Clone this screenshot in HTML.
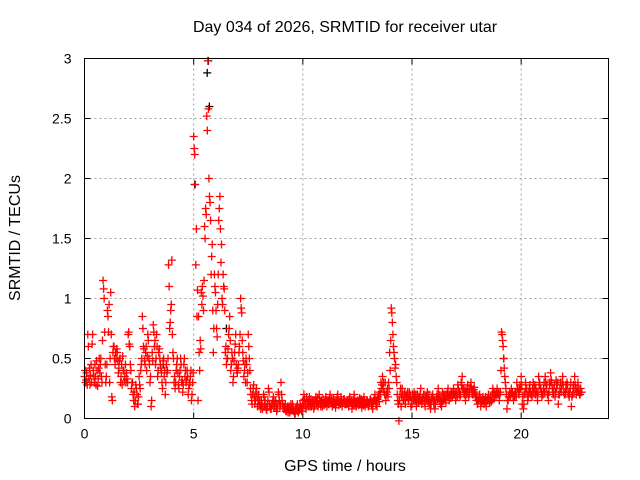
<!DOCTYPE html>
<html><head><meta charset="utf-8"><style>
body{margin:0;background:#fff;}
svg{display:block;font-family:"Liberation Sans",sans-serif;}
</style></head><body>
<svg id="chart" width="640" height="480">
<text x="345" y="32" font-size="16" text-anchor="middle">Day 034 of 2026, SRMTID for receiver utar</text>
<text x="0" y="0" font-size="16" text-anchor="middle" transform="translate(20,238) rotate(-90)">SRMTID / TECUs</text>
<text x="345" y="471" font-size="16" text-anchor="middle">GPS time / hours</text>
<g id="grid"></g>
<g id="ticks"></g>
<g id="points"></g>
<rect x="84.5" y="58.5" width="524" height="360" fill="none" stroke="#000" stroke-width="1"/>
</svg>
<script>
const xTicks=[0,5,10,15,20];
const yTicks=[0,0.5,1,1.5,2,2.5,3];
const yTickLabels=["0","0.5","1","1.5","2","2.5","3"];
const timeStep=0.05;
const srmtidRed=[
0.35,0.3,0.38,0.7,0.33,0.28,0.45,0.62,0.4,0.3,0.35,0.48,0.27,0.42,0.38,0.5,0.3,1.15,1.0,0.45,
0.35,0.9,0.72,0.3,1.05,0.18,0.55,0.6,0.45,0.5,0.55,0.38,0.48,0.3,0.45,0.52,0.4,0.35,0.3,0.33,
0.7,0.62,0.45,0.25,0.3,0.15,0.1,0.28,0.2,0.12,0.35,0.25,0.45,0.85,0.6,0.48,0.55,0.4,0.7,0.5,
0.3,0.1,0.55,0.78,0.6,0.45,0.7,0.35,0.55,0.5,0.42,0.3,0.48,0.35,0.2,0.45,0.4,1.28,0.75,0.9,
1.32,0.55,0.3,0.25,0.4,0.5,0.28,0.35,0.5,0.3,0.22,0.45,0.35,0.3,0.4,0.2,0.28,0.35,0.15,0.3,
2.35,2.2,1.28,0.85,0.15,0.55,0.65,1.05,1.1,0.9,1.6,1.75,2.52,2.98,2.0,1.8,1.2,1.45,0.55,1.2,
1.05,0.75,0.95,1.65,1.85,1.3,1.0,1.2,1.08,0.55,0.45,0.5,0.7,0.85,0.4,0.55,0.3,0.48,0.62,0.45,
0.38,0.45,0.6,1.0,0.88,0.55,0.35,0.45,0.5,0.3,0.7,0.5,0.25,0.15,0.2,0.28,0.12,0.22,0.18,0.15,
0.12,0.1,0.15,0.08,0.2,0.12,0.1,0.07,0.15,0.22,0.1,0.08,0.12,0.18,0.1,0.15,0.06,0.12,0.2,0.1,
0.3,0.15,0.1,0.08,0.12,0.06,0.1,0.08,0.05,0.12,0.07,0.1,0.06,0.04,0.08,0.12,0.05,0.07,0.1,0.06,
0.15,0.2,0.12,0.08,0.15,0.1,0.18,0.12,0.1,0.15,0.08,0.12,0.18,0.14,0.1,0.2,0.12,0.15,0.1,0.13,
0.14,0.18,0.1,0.15,0.12,0.2,0.13,0.1,0.16,0.12,0.09,0.15,0.2,0.11,0.14,0.18,0.1,0.13,0.16,0.12,
0.12,0.15,0.1,0.18,0.13,0.08,0.14,0.2,0.12,0.1,0.15,0.11,0.17,0.13,0.09,0.14,0.18,0.1,0.12,0.15,
0.1,0.13,0.16,0.12,0.08,0.15,0.2,0.12,0.1,0.18,0.14,0.2,0.25,0.35,0.3,0.2,0.15,0.22,0.18,0.25,
0.4,0.92,0.8,0.6,0.5,0.45,0.3,0.15,-0.02,0.2,0.1,0.25,0.15,0.2,0.12,0.18,0.22,0.15,0.2,0.1,
0.12,0.18,0.22,0.15,0.1,0.2,0.13,0.17,0.25,0.12,0.15,0.2,0.1,0.18,0.22,0.14,0.12,0.08,0.16,0.2,
0.12,0.08,0.15,0.2,0.25,0.18,0.12,0.1,0.22,0.15,0.2,0.13,0.18,0.25,0.15,0.2,0.22,0.18,0.25,0.2,
0.15,0.22,0.28,0.2,0.18,0.3,0.35,0.25,0.2,0.15,0.22,0.28,0.18,0.25,0.3,0.22,0.2,0.26,0.18,0.15,
0.12,0.15,0.2,0.1,0.14,0.18,0.12,0.16,0.1,0.15,0.2,0.13,0.18,0.15,0.25,0.2,0.22,0.18,0.25,0.2,
0.15,0.22,0.72,0.65,0.5,0.35,0.25,0.08,0.15,0.2,0.18,0.25,0.22,0.15,0.18,0.2,0.3,0.25,0.2,0.28,
0.35,0.12,0.08,0.2,0.3,0.25,0.15,0.22,0.28,0.2,0.18,0.3,0.25,0.2,0.22,0.15,0.35,0.3,0.25,0.18,
0.2,0.3,0.35,0.25,0.2,0.15,0.28,0.38,0.3,0.22,0.25,0.18,0.32,0.28,0.12,0.2,0.3,0.25,0.35,0.22,
0.2,0.28,0.3,0.22,0.18,0.25,0.1,0.2,0.28,0.35,0.25,0.22,0.3,0.25,0.2,0.22
];
const srmtidRedOffsetStart=0.025;
const srmtidRedB=[
0.4,0.32,0.28,0.6,0.42,0.36,0.3,0.7,0.35,0.45,0.28,0.4,0.33,0.5,0.45,0.35,0.65,1.08,0.72,0.3,
0.45,0.85,0.95,0.5,0.7,0.15,0.6,0.5,0.55,0.58,0.48,0.42,0.5,0.35,0.28,0.4,0.32,0.45,0.38,0.3,
0.72,0.6,0.4,0.3,0.2,0.22,0.15,0.25,0.12,0.18,0.28,0.4,0.5,0.75,0.58,0.45,0.6,0.52,0.65,0.45,
0.35,0.15,0.48,0.72,0.65,0.5,0.6,0.4,0.58,0.45,0.38,0.25,0.5,0.4,0.3,0.38,0.5,1.1,0.8,0.95,
0.7,0.5,0.35,0.3,0.45,0.38,0.25,0.4,0.45,0.32,0.28,0.5,0.4,0.32,0.35,0.25,0.3,0.4,0.2,0.38,
2.25,1.95,1.58,1.07,0.85,0.4,0.58,0.95,1.02,1.15,1.5,1.7,2.4,2.58,1.85,1.65,1.35,0.9,0.75,1.1,
0.9,0.68,1.2,1.75,1.58,1.45,0.95,1.1,0.9,0.6,0.5,0.58,0.75,0.65,0.45,0.5,0.35,0.55,0.7,0.4,
0.42,0.55,0.7,0.92,0.65,0.48,0.4,0.3,0.45,0.38,0.6,0.4,0.2,0.12,0.25,0.18,0.15,0.25,0.1,0.2,
0.15,0.08,0.12,0.1,0.18,0.15,0.08,0.12,0.25,0.12,0.08,0.12,0.15,0.1,0.14,0.1,0.08,0.22,0.15,0.12,
0.2,0.12,0.08,0.1,0.06,0.09,0.05,0.1,0.07,0.08,0.12,0.06,0.04,0.08,0.1,0.06,0.09,0.12,0.08,0.1,
0.12,0.16,0.1,0.18,0.12,0.14,0.1,0.16,0.13,0.12,0.1,0.15,0.12,0.17,0.12,0.15,0.1,0.12,0.16,0.11,
0.12,0.15,0.13,0.12,0.17,0.14,0.16,0.12,0.13,0.15,0.12,0.18,0.14,0.13,0.12,0.15,0.13,0.16,0.12,0.14,
0.14,0.12,0.16,0.13,0.15,0.12,0.11,0.16,0.14,0.13,0.12,0.15,0.13,0.16,0.12,0.11,0.15,0.13,0.14,0.12,
0.12,0.15,0.14,0.1,0.13,0.17,0.15,0.14,0.16,0.2,0.22,0.3,0.28,0.25,0.22,0.3,0.2,0.25,0.3,0.55,
0.65,0.88,0.7,0.55,0.42,0.35,0.2,0.12,0.15,0.25,0.18,0.2,0.15,0.22,0.18,0.2,0.16,0.22,0.18,0.15,
0.2,0.15,0.18,0.2,0.14,0.16,0.18,0.2,0.15,0.17,0.2,0.14,0.18,0.15,0.16,0.2,0.15,0.12,0.18,0.16,
0.15,0.12,0.18,0.16,0.2,0.15,0.18,0.14,0.2,0.18,0.16,0.2,0.22,0.18,0.2,0.17,0.2,0.22,0.2,0.22,
0.2,0.18,0.25,0.22,0.2,0.28,0.25,0.22,0.24,0.2,0.25,0.2,0.22,0.27,0.25,0.2,0.24,0.22,0.2,0.18,
0.15,0.18,0.16,0.14,0.17,0.15,0.13,0.18,0.15,0.17,0.15,0.16,0.14,0.2,0.22,0.18,0.2,0.22,0.2,0.22,
0.2,0.4,0.7,0.6,0.42,0.3,0.2,0.15,0.18,0.22,0.2,0.22,0.18,0.2,0.22,0.18,0.25,0.22,0.24,0.25,
0.28,0.18,0.12,0.22,0.25,0.2,0.18,0.25,0.22,0.2,0.25,0.22,0.28,0.25,0.2,0.22,0.28,0.25,0.22,0.2,
0.25,0.22,0.3,0.28,0.2,0.22,0.3,0.32,0.25,0.2,0.28,0.22,0.25,0.3,0.2,0.25,0.22,0.3,0.28,0.2,
0.22,0.25,0.28,0.2,0.22,0.3,0.18,0.25,0.22,0.28,0.2,0.25,0.22,0.2,0.25,0.22
];
const blackTimes=[5.62,5.67,5.72,5.05,19.2,6.5,3.6];
const blackValues=[2.88,2.98,2.6,1.95,0.5,0.75,0.45];

const L=84.5,R=608.5,T=58.5,B=418.5,XMAX=24,YMAX=3;
const xs=v=>L+(v/XMAX)*(R-L);
const ys=v=>B-(v/YMAX)*(B-T);
const NS="http://www.w3.org/2000/svg";
function mk(tag,attrs,parent){const e=document.createElementNS(NS,tag);for(const k in attrs)e.setAttribute(k,attrs[k]);parent.appendChild(e);return e;}
const grid=document.getElementById('grid'),ticks=document.getElementById('ticks'),pts=document.getElementById('points');
xTicks.forEach(t=>{
  const x=xs(t);
  if(t>0){const g=mk('line',{x1:x,x2:x,y1:T,y2:B,stroke:'#a0a0a0','stroke-dasharray':'2,3'},grid);
  
  }
  mk('line',{x1:x,x2:x,y1:B,y2:B-6,stroke:'#000'},ticks);
  mk('line',{x1:x,x2:x,y1:T,y2:T+6,stroke:'#000'},ticks);
  const lb=mk('text',{x:x,y:B+20,'font-size':14,'text-anchor':'middle'},ticks);
  lb.textContent=String(t);
  
  
});
yTicks.forEach((t,i)=>{
  const y=ys(t);
  if(t>0&&t<YMAX){const g=mk('line',{x1:L,x2:R,y1:y,y2:y,stroke:'#a0a0a0','stroke-dasharray':'2,3'},grid);
  
  }
  mk('line',{x1:L,x2:L+6,y1:y,y2:y,stroke:'#000'},ticks);
  mk('line',{x1:R,x2:R-6,y1:y,y2:y,stroke:'#000'},ticks);
  const lb=mk('text',{x:L-13,y:y+5,'font-size':14,'text-anchor':'end'},ticks);
  lb.textContent=yTickLabels[i];
  
  
});
function plus(x,y,color){
  if(y>B+4)return;
  const p=mk('path',{d:`M${x-4} ${y}H${x+4}M${x} ${y-4}V${y+4}`,stroke:color,'stroke-width':1.3,fill:'none'},pts);
  
  
}
blackTimes.forEach((t,i)=>plus(xs(t),ys(blackValues[i]),'#000'));
srmtidRed.forEach((v,i)=>plus(xs(i*timeStep),ys(v),'#ff0000'));
srmtidRedB.forEach((v,i)=>plus(xs(srmtidRedOffsetStart+i*timeStep),ys(v),'#ff0000'));
</script>
</body></html>
